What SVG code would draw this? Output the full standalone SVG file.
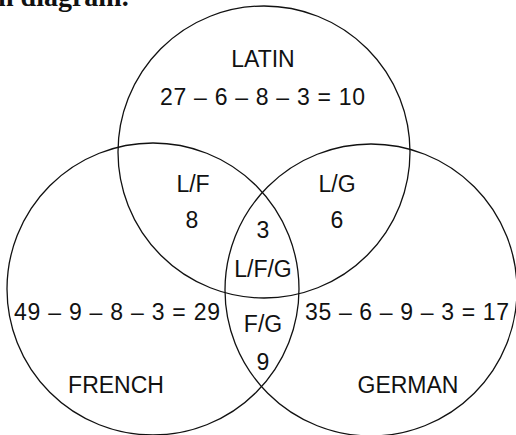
<svg xmlns="http://www.w3.org/2000/svg" width="516" height="435" viewBox="0 0 516 435">
<style>
.c{fill:none;stroke:#111;stroke-width:1.3}
.t{font-family:"Liberation Sans",Arial,sans-serif;font-size:23px;fill:#111;text-anchor:middle}
.h{font-family:"Liberation Serif","Times New Roman",serif;font-size:28px;font-weight:bold;fill:#111}
</style>
<rect width="516" height="435" fill="#fff"/>
<text class="h" x="-2" y="6">n diagram.</text>
<g id="latin">
<circle class="c" cx="264" cy="152" r="146"/>
<text class="t" x="263" y="67">LATIN</text>
<text class="t" x="262.5" y="105" textLength="205" lengthAdjust="spacing">27 – 6 – 8 – 3 = 10</text>
</g>
<g id="french">
<circle class="c" cx="153" cy="289" r="146"/>
<text class="t" x="116" y="393">FRENCH</text>
<text class="t" x="117" y="320" textLength="206" lengthAdjust="spacing">49 – 9 – 8 – 3 = 29</text>
</g>
<g id="german">
<circle class="c" cx="371" cy="290" r="146"/>
<text class="t" x="408" y="393">GERMAN</text>
<text class="t" x="407" y="320" textLength="204" lengthAdjust="spacing">35 – 6 – 9 – 3 = 17</text>
</g>
<g id="lf">
<text class="t" x="193" y="192">L/F</text>
<text class="t" x="192" y="228">8</text>
</g>
<g id="lg">
<text class="t" x="337" y="192">L/G</text>
<text class="t" x="337" y="228">6</text>
</g>
<g id="lfg">
<text class="t" x="263" y="238">3</text>
<text class="t" x="263" y="277">L/F/G</text>
</g>
<g id="fg">
<text class="t" x="263" y="332">F/G</text>
<text class="t" x="263" y="370">9</text>
</g>
<g id="connectors"/>
</svg>
